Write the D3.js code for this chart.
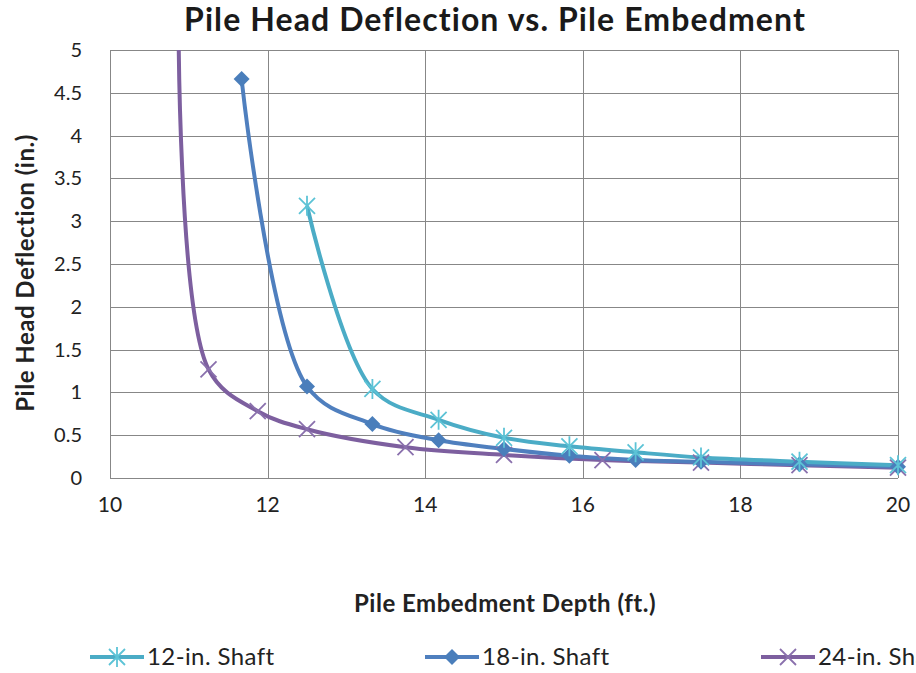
<!DOCTYPE html>
<html><head><meta charset="utf-8">
<script src="https://cdn.jsdelivr.net/npm/d3@7"></script>
<style>html,body{margin:0;padding:0;background:#fff;overflow:hidden}</style>
</head><body>
<script>
const xTicks = [10, 12, 14, 16, 18, 20];
const yTicks = [0, 0.5, 1, 1.5, 2, 2.5, 3, 3.5, 4, 4.5, 5];
const seriesNames = ["12-in. Shaft", "18-in. Shaft", "24-in. Shaft"];
const x12 = [12.5, 13.33, 14.17, 15, 15.83, 16.67, 17.5, 18.75, 20];
const y12 = [3.18, 1.04, 0.68, 0.47, 0.37, 0.30, 0.24, 0.19, 0.15];
const x18 = [11.67, 12.5, 13.33, 14.17, 15, 15.83, 16.67, 17.5, 18.75, 20];
const y18 = [4.66, 1.07, 0.63, 0.44, 0.34, 0.26, 0.21, 0.19, 0.16, 0.13];
const x24 = [10.87, 11.25, 11.875, 12.5, 13.75, 15, 16.25, 17.5, 18.75, 20];
const y24 = [5.4, 1.27, 0.78, 0.57, 0.36, 0.27, 0.21, 0.18, 0.15, 0.12];

const W = 916, H = 673;
const L = 110, R = 898, T = 50, B = 478;
const colors = ["#4bacc6", "#4f7fbe", "#7d5f9f"];
const markerColors = ["#5cc3d6", "#4a7ebb", "#8a70ad"];
const font = "Lato, 'Open Sans', sans-serif";

const svg = d3.select("body").append("svg").attr("width", W).attr("height", H);
const x = d3.scaleLinear().domain([10, 20]).range([L, R]);
const y = d3.scaleLinear().domain([0, 5]).range([B, T]);

svg.append("text").attr("x", 495).attr("y", 31).attr("text-anchor", "middle")
  .attr("font-family", font).attr("font-weight", "bold").attr("font-size", 32)
  .attr("letter-spacing", 1.1).attr("fill", "#1a1a1a")
  .text("Pile Head Deflection vs. Pile Embedment");

// grid
const g = svg.append("g");
g.selectAll(".hg").data(yTicks).join("line")
  .attr("x1", L).attr("x2", R).attr("y1", d => Math.round(y(d)) + 0.5).attr("y2", d => Math.round(y(d)) + 0.5)
  .attr("stroke", "#878787").attr("stroke-width", 1);
g.selectAll(".vg").data(xTicks).join("line")
  .attr("y1", T).attr("y2", B).attr("x1", d => Math.round(x(d)) + 0.5).attr("x2", d => Math.round(x(d)) + 0.5)
  .attr("stroke", "#878787").attr("stroke-width", 1);

// tick labels
svg.selectAll(".yl").data(yTicks).join("text")
  .attr("x", 82).attr("y", d => y(d) + 7).attr("text-anchor", "end")
  .attr("font-family", font).attr("font-size", 20).attr("fill", "#222")
  .text(d => d);
svg.selectAll(".xl").data(xTicks).join("text")
  .attr("x", d => x(d)).attr("y", 512).attr("text-anchor", "middle")
  .attr("font-family", font).attr("font-size", 21).attr("fill", "#222")
  .text(d => d);

svg.append("text").attr("x", 505).attr("y", 612).attr("text-anchor", "middle")
  .attr("font-family", font).attr("font-weight", "bold").attr("font-size", 24)
  .attr("letter-spacing", 0.5).attr("fill", "#222")
  .text("Pile Embedment Depth (ft.)");
svg.append("text").attr("transform", "translate(34,273) rotate(-90)").attr("text-anchor", "middle")
  .attr("font-family", font).attr("font-weight", "bold").attr("font-size", 24)
  .attr("letter-spacing", 0.5).attr("fill", "#222")
  .text("Pile Head Deflection (in.)");

svg.append("clipPath").attr("id", "clip").append("rect")
  .attr("x", L).attr("y", T).attr("width", R - L + 12).attr("height", B - T + 12);

const data = [
  x12.map((v, i) => [v, y12[i]]),
  x18.map((v, i) => [v, y18[i]]),
  x24.map((v, i) => [v, y24[i]])
];
const line = d3.line().x(d => x(d[0])).y(d => y(d[1])).curve(d3.curveCatmullRom.alpha(0.5));
const plot = svg.append("g").attr("clip-path", "url(#clip)");

function marker(sel, k, cx, cy) {
  const c = markerColors[k];
  const s = 8;
  if (k === 0) {
    sel.append("path").attr("d", `M${cx-s},${cy-s}L${cx+s},${cy+s}M${cx-s},${cy+s}L${cx+s},${cy-s}M${cx},${cy-s-2}L${cx},${cy+s+2}`)
      .attr("stroke", c).attr("stroke-width", 1.8).attr("fill", "none");
  } else if (k === 1) {
    sel.append("path").attr("d", `M${cx},${cy-s}L${cx+s},${cy}L${cx},${cy+s}L${cx-s},${cy}Z`).attr("fill", c);
  } else {
    sel.append("path").attr("d", `M${cx-s},${cy-s}L${cx+s},${cy+s}M${cx-s},${cy+s}L${cx+s},${cy-s}`)
      .attr("stroke", c).attr("stroke-width", 1.8).attr("fill", "none");
  }
}

[2, 1, 0].forEach(k => {
  plot.append("path").attr("d", line(data[k])).attr("fill", "none")
    .attr("stroke", colors[k]).attr("stroke-width", 4).attr("stroke-linejoin", "round");
});
[2, 1, 0].forEach(k => {
  data[k].forEach(d => marker(plot, k, x(d[0]), y(d[1])));
});

// legend
const legX = [90, 425, 761];
seriesNames.forEach((n, k) => {
  const lg = svg.append("g");
  const x0 = legX[k], cy = 657;
  lg.append("line").attr("x1", x0).attr("x2", x0 + 54).attr("y1", cy).attr("y2", cy)
    .attr("stroke", colors[k]).attr("stroke-width", 4);
  marker(lg, k, x0 + 27, cy);
  lg.append("text").attr("x", x0 + 57).attr("y", cy + 8).attr("font-family", font)
    .attr("font-size", 24).attr("letter-spacing", 0.4).attr("fill", "#222").text(n);
});
</script>
</body></html>
